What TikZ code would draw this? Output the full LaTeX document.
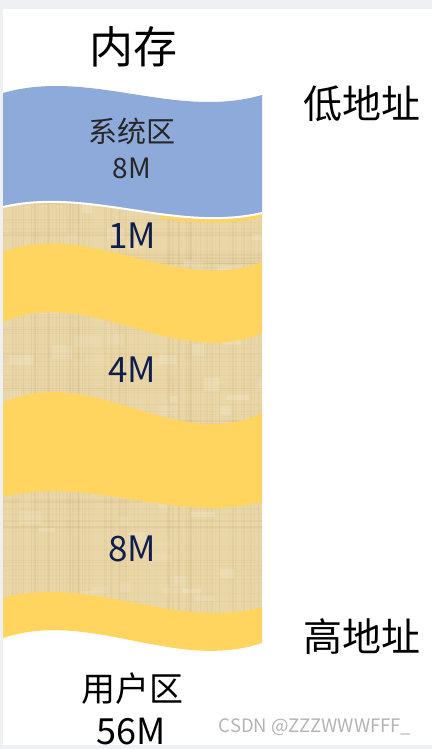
\documentclass[tikz,border=0pt]{standalone}
\usepackage{fontspec}
\newfontfamily\cjk{Noto Sans CJK SC}
\definecolor{blueR}{HTML}{8EAADB}
\definecolor{yel}{HTML}{FFD55F}
\definecolor{papyrus}{HTML}{EAD7A8}
\definecolor{fiber}{HTML}{BE9B62}
\definecolor{navy}{HTML}{0E1E4E}
\definecolor{edgegray}{HTML}{EEF0F4}
\definecolor{wmgray}{HTML}{B4B4B4}
\tikzset{
  big/.style={font=\cjk\fontsize{39}{39}\selectfont, text=black, inner sep=0pt},
  numtext/.style={font=\cjk\fontsize{35}{35}\selectfont, text=navy, inner sep=0pt},
  sysfont/.style={font=\cjk\fontsize{29}{29}\selectfont, text=black!85, inner sep=0pt},
  band/.style={fill=yel},
}
\begin{document}
\begin{tikzpicture}[x=1pt,y=-1pt]
\useasboundingbox (0,0) rectangle (432,749);
\fill[white] (0,0) rectangle (432,749);
\fill[edgegray] (0,0) rectangle (432,9);
\fill[edgegray] (0,0) rectangle (2.5,749);
\fill[edgegray] (0,745) rectangle (432,749);

% papyrus texture
\begin{scope}
\clip (3,200) rectangle (262,620);
\fill[papyrus] (3,200) rectangle (262,620);
\pgfmathsetseed{7}
\foreach \i in {0,...,110}{
  \pgfmathsetmacro\xx{3+rnd*259}
  \pgfmathsetmacro\oo{0.03+0.08*rnd}
  \pgfmathsetmacro\ww{0.5+1.5*rnd}
  \draw[fiber, opacity=\oo, line width=\ww pt] (\xx,200) -- (\xx,620);
}
\foreach \i in {0,...,110}{
  \pgfmathsetmacro\yy{200+rnd*420}
  \pgfmathsetmacro\oo{0.03+0.07*rnd}
  \pgfmathsetmacro\ww{0.5+1.5*rnd}
  \draw[fiber, opacity=\oo, line width=\ww pt] (3,\yy) -- (262,\yy);
}
\foreach \i in {0,...,80}{
  \pgfmathsetmacro\xx{3+rnd*259}
  \pgfmathsetmacro\yy{200+rnd*420}
  \pgfmathsetmacro\oo{0.06+0.12*rnd}
  \fill[white, opacity=\oo] (\xx,\yy) rectangle ++(6+20*rnd,4+10*rnd);
}
\end{scope}

% yellow bands
\fill[band] (3,252) .. controls (90,219) and (175,295) .. (262,262)
  -- (262,333) .. controls (175,371) and (90,284) .. (3,322) -- cycle;
\fill[band] (3,403) .. controls (90,361) and (175,455) .. (262,413)
  -- (262,502) .. controls (175,524) and (90,475) .. (3,497) -- cycle;
\fill[band] (3,598) .. controls (90,574) and (175,631) .. (262,607)
  -- (262,643) .. controls (175,672) and (90,609) .. (3,638) -- cycle;

% blue system region
\fill[blueR] (3,93) .. controls (90,68) and (175,120) .. (262,95)
  -- (262,213) .. controls (175,233) and (90,187) .. (3,207) -- cycle;
\begin{scope}
\clip (160,180) rectangle (262,240);
\draw[yel, line width=3pt] (3,210) .. controls (90,190) and (175,236) .. (262,216);
\end{scope}
\draw[white, line width=2pt] (3,207) .. controls (90,187) and (175,233) .. (262,213);

% texts
\node[big, font=\cjk\fontsize{44}{44}\selectfont] (title) at (133,47) {内存};
\node[big] (low) at (362,104) {低地址};
\node[big] (high) at (362,637) {高地址};
\node[sysfont] (sys) at (132,131) {系统区};
\node[sysfont, font=\cjk\fontsize{28}{28}\selectfont] (sysM) at (132,168) {8M};
\node[numtext] (m1) at (132,236) {1M};
\node[numtext] (m4) at (132,370) {4M};
\node[numtext] (m8) at (132,549) {8M};
\node[big, font=\cjk\fontsize{34}{34}\selectfont] (user) at (132,689) {用户区};
\node[big, font=\cjk\fontsize{36}{36}\selectfont] (userM) at (131,732) {56M};
\node[font=\cjk\fontsize{18.5}{18.5}\selectfont, text=wmgray, inner sep=0pt] (wm) at (315,727) {CSDN @ZZZWWWFFF\_};
\end{tikzpicture}
\end{document}
